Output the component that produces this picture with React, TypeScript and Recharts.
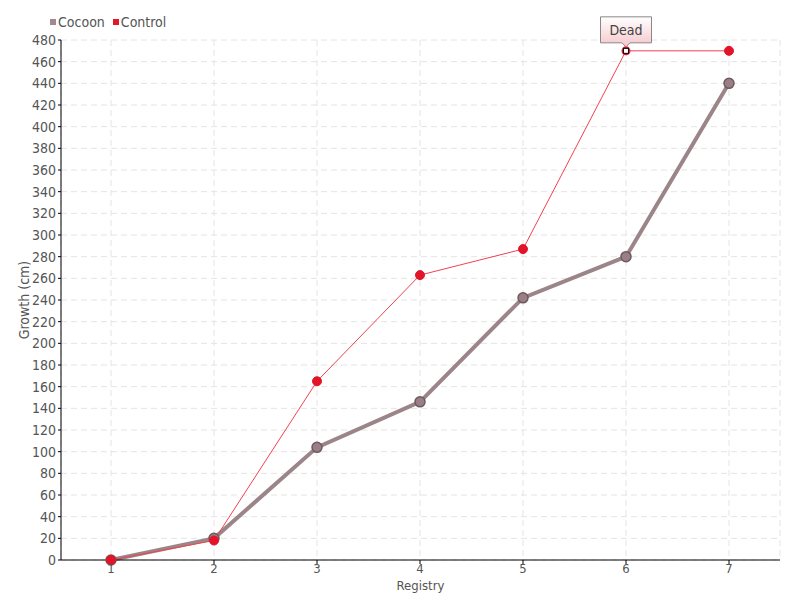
// GrowthChart.tsx
import { LineChart, Line, XAxis, YAxis, CartesianGrid } from "recharts";

const registry = ["1", "2", "3", "4", "5", "6", "7"];
const cocoon = [0, 20, 104, 146, 242, 280, 440];
const control = [0, 18, 165, 263, 287, 470, 470];
const yTicks = [
  0, 20, 40, 60, 80, 100, 120, 140, 160, 180, 200, 220, 240, 260, 280, 300, 320, 340, 360,
  380, 400, 420, 440, 460, 480,
];
const deadIndex = 5;
const deadLabel = "Dead";

const data = registry.map((r, i) => ({ registry: r, cocoon: cocoon[i], control: control[i] }));

const FONT = '"Liberation Sans Narrow", "DejaVu Sans Condensed", "Roboto", sans-serif';
const TEXT = "#555";

function ControlDot(props: any) {
  const { cx, cy, index } = props;
  if (cx == null || cy == null) return null;
  if (index !== deadIndex) {
    return <circle key={`c-${index}`} cx={cx} cy={cy} r={4.5} fill="#e3142a" stroke="#e3142a" />;
  }
  const bw = 51;
  const bh = 26;
  const bx = cx - bw / 2;
  const by = cy - 34;
  return (
    <g key={`c-${index}`}>
      <circle cx={cx} cy={cy} r={4.5} fill="#e3142a" />
      <rect x={cx - 2.5} y={cy - 2.5} width={5} height={5} fill="#fff" stroke="#000" strokeWidth={1} />
      <path
        d={`M${bx},${by} H${bx + bw} V${by + bh} H${cx + 4} L${cx},${by + bh + 4} L${cx - 4},${by + bh} H${bx} Z`}
        fill="url(#deadFill)"
        stroke="#888"
        strokeWidth={1}
      />
      <text x={cx} y={by + 18} textAnchor="middle" fontSize={14} fill="#444" fontFamily={FONT}>
        {deadLabel}
      </text>
    </g>
  );
}

export default function App() {
  return (
    <div style={{ position: "absolute", left: 0, top: 0, width: 800, height: 600, background: "#fff", fontFamily: FONT }}>
      <div style={{ position: "absolute", left: 50, top: 14, fontSize: 14, color: TEXT, display: "flex", gap: 8, zIndex: 2 }}>
        <span style={{ display: "flex", alignItems: "center", gap: 2 }}>
          <span style={{ width: 6, height: 6, background: "#a08a8f", display: "inline-block" }} />
          Cocoon
        </span>
        <span style={{ display: "flex", alignItems: "center", gap: 2 }}>
          <span style={{ width: 6, height: 6, background: "#e3192b", display: "inline-block" }} />
          Control
        </span>
      </div>
      <LineChart width={800} height={600} data={data} margin={{ top: 40, right: 20, left: 0, bottom: 0 }}>
        <defs>
          <linearGradient id="deadFill" x1="0" y1="0" x2="0" y2="1">
            <stop offset="0%" stopColor="#ffffff" />
            <stop offset="100%" stopColor="#f6c6ca" />
          </linearGradient>
        </defs>
        <CartesianGrid stroke="#e4e4e4" strokeDasharray="6 4" />
        <XAxis
          dataKey="registry"
          height={40}
          padding={{ left: 50, right: 51 }}
          stroke="#000"
          tickSize={4}
          tickMargin={0}
          tick={{ fill: TEXT, fontSize: 13, fontFamily: FONT }}
          label={{ value: "Registry", position: "insideBottom", offset: 10, fill: TEXT, fontSize: 13, fontFamily: FONT }}
        />
        <YAxis
          width={61}
          domain={[0, 480]}
          ticks={yTicks}
          interval={0}
          stroke="#000"
          tickSize={3}
          tick={{ fill: TEXT, fontSize: 14, fontFamily: FONT }}
          label={{ value: "Growth (cm)", angle: -90, position: "insideLeft", offset: 24, fill: TEXT, fontSize: 14, fontFamily: FONT, style: { textAnchor: "middle" } }}
        />
        <Line
          dataKey="cocoon"
          stroke="#9b8589"
          strokeWidth={4}
          dot={{ r: 5, fill: "#9a7f86", stroke: "#6e5a5e", strokeWidth: 1.5 }}
          isAnimationActive={false}
        />
        <Line
          dataKey="control"
          stroke="#f2424f"
          strokeWidth={1}
          dot={<ControlDot />}
          isAnimationActive={false}
        />
      </LineChart>
    </div>
  );
}
